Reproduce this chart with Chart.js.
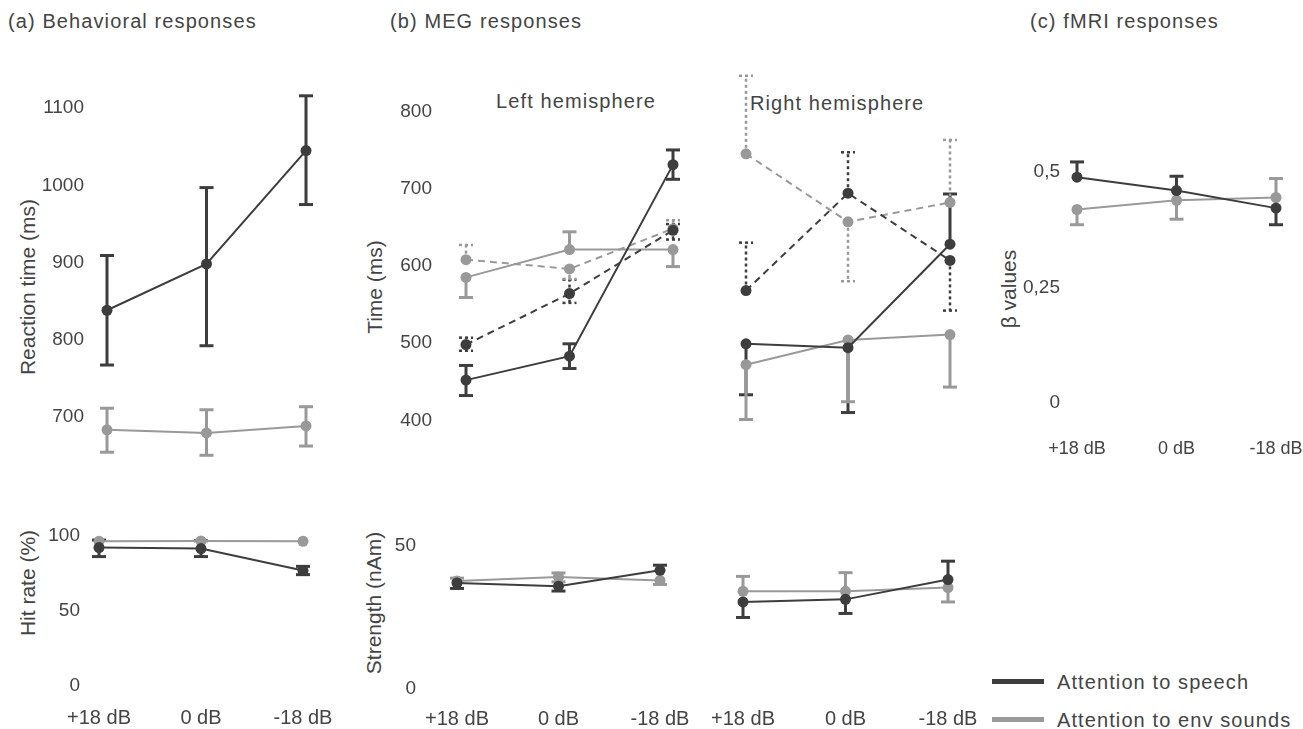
<!DOCTYPE html>
<html><head><meta charset="utf-8">
<script src="https://cdn.jsdelivr.net/npm/chart.js@4.4.1/dist/chart.umd.min.js"></script>
<style>
html,body{margin:0;padding:0;background:#fff;}
body{width:1303px;height:729px;position:relative;overflow:hidden;font-family:"Liberation Sans",Arial,sans-serif;color:#444444;}
canvas{position:absolute;}
.t{position:absolute;white-space:nowrap;font-size:20px;letter-spacing:1.1px;line-height:1;}
.c{transform:translateX(-50%);}
.v{position:absolute;white-space:nowrap;font-size:21px;line-height:1;transform:translate(-50%,-50%) rotate(-90deg);}
.leg{position:absolute;height:5px;width:52px;}
</style></head><body>
<div class="t" style="left:8px;top:11px">(a) Behavioral responses</div>
<div class="t" style="left:390px;top:11px">(b) MEG responses</div>
<div class="t" style="left:1030px;top:11px">(c) fMRI responses</div>
<div class="t c" style="left:576px;top:91px">Left hemisphere</div>
<div class="t" style="left:750px;top:93px">Right hemisphere</div>
<div class="v" style="left:27px;top:287px">Reaction time (ms)</div>
<div class="v" style="left:27px;top:583px">Hit rate (%)</div>
<div class="v" style="left:374px;top:287px">Time (ms)</div>
<div class="v" style="left:373px;top:603px">Strength (nAm)</div>
<div class="v" style="left:1008px;top:289px">β values</div>
<div class="leg" style="left:992px;top:679px;background:#3d3d3d"></div>
<div class="t" style="left:1057px;top:672px">Attention to speech</div>
<div class="leg" style="left:992px;top:717px;background:#999999"></div>
<div class="t" style="left:1057px;top:710px">Attention to env sounds</div>
<script>
// ---------- data ----------
const levels = ['+18 dB', '0 dB', '-18 dB'];

// (a) reaction time (ms)
const rtTicks = [700, 800, 900, 1000, 1100];
const rtSpeech = [838, 898, 1045];
const rtSpeechLow = [767, 792, 975];
const rtSpeechHigh = [909, 997, 1116];
const rtEnv = [683, 679, 688];
const rtEnvLow = [654, 650, 662];
const rtEnvHigh = [711, 709, 713];

// (a) hit rate (%)
const hitTicks = [0, 50, 100];
const hitSpeech = [92, 91.3, 76.7];
const hitSpeechLow = [86, 86, 74];
const hitSpeechHigh = [97, 96.5, 79.5];
const hitEnv = [96.2, 96.4, 96.2];

// (b) MEG latency (ms)
const megTimeTicks = [400, 500, 600, 700, 800];
// left hemisphere, solid (1) and dashed (2)
const lhSpeech1 = [452, 483, 731];
const lhSpeech1Low = [432, 467, 712];
const lhSpeech1High = [471, 499, 750];
const lhSpeech2 = [498, 564, 646];
const lhSpeech2Low = [490, 552, 634];
const lhSpeech2High = [507, 582, 654];
const lhEnv1 = [585, 621, 621];
const lhEnv1Low = [559, null, 599];
const lhEnv1High = [null, 644, null];
const lhEnv2 = [608, 596, 648];
const lhEnv2Low = [null, 583, null];
const lhEnv2High = [627, null, 659];
// right hemisphere
const rhSpeech1 = [499, 494, 628];
const rhSpeech1Low = [433, 410, null];
const rhSpeech1High = [null, null, 693];
const rhSpeech2 = [568, 694, 607];
const rhSpeech2Low = [null, null, 542];
const rhSpeech2High = [630, 747, null];
const rhEnv1 = [472, 504, 511];
const rhEnv1Low = [401, 424, 443];
const rhEnv1High = [null, null, null];
const rhEnv2 = [745, 657, 682];
const rhEnv2Low = [null, 580, null];
const rhEnv2High = [846, null, 763];

// (b) MEG strength (nAm)
const strTicks = [0, 50];
const lhStrSpeech = [36.9, 35.8, 41.3];
const lhStrSpeechLow = [35, 34.1, null];
const lhStrSpeechHigh = [null, null, 43.1];
const lhStrEnv = [37.6, 39, 37.8];
const lhStrEnvLow = [null, 37.3, 36.4];
const lhStrEnvHigh = [38.6, 40.4, null];
const rhStrSpeech = [30.3, 31.2, 38.1];
const rhStrSpeechLow = [24.9, 26.3, null];
const rhStrSpeechHigh = [null, null, 44.5];
const rhStrEnv = [34, 34, 35.3];
const rhStrEnvLow = [null, null, 30.3];
const rhStrEnvHigh = [39.2, 40.5, null];

// (c) fMRI beta values
const betaTicks = [0, 0.25, 0.5];
const betaTickLabels = ['0', '0,25', '0,5'];
const betaSpeech = [0.489, 0.460, 0.422];
const betaSpeechLow = [null, null, 0.386];
const betaSpeechHigh = [0.522, 0.491, null];
const betaEnv = [0.419, 0.439, 0.445];
const betaEnvLow = [0.386, 0.398, null];
const betaEnvHigh = [null, null, 0.486];

// ---------- drawing ----------
const DARK = '#3d3d3d', LIGHT = '#999999', TEXT = '#444444';
Chart.defaults.font.family = '"Liberation Sans", Arial, sans-serif';
Chart.defaults.color = TEXT;

const errorBarPlugin = {
  id: 'errbars',
  beforeDatasetsDraw(chart) {
    const ctx = chart.ctx, ys = chart.scales.y;
    chart.data.datasets.forEach((ds, di) => {
      const meta = chart.getDatasetMeta(di);
      ctx.save();
      ctx.strokeStyle = ds.borderColor;
      ctx.lineWidth = ds.errWidth;
      ctx.setLineDash(ds.errDash);
      meta.data.forEach((pt, i) => {
        [ds.errLow ? ds.errLow[i] : null, ds.errHigh ? ds.errHigh[i] : null].forEach(v => {
          if (v === null || v === undefined) return;
          const ye = ys.getPixelForValue(v);
          ctx.beginPath(); ctx.moveTo(pt.x, pt.y); ctx.lineTo(pt.x, ye); ctx.stroke();
          ctx.beginPath(); ctx.moveTo(pt.x - 7, ye); ctx.lineTo(pt.x + 7, ye); ctx.stroke();
        });
      });
      ctx.restore();
    });
  }
};

function makeSet(s) {
  const color = s.dark ? DARK : LIGHT;
  return {
    data: s.data, borderColor: color, backgroundColor: color,
    pointBackgroundColor: color, pointBorderColor: color, pointBorderWidth: 0,
    borderWidth: 2, pointRadius: 5.5, borderDash: s.dashed ? [7, 5] : [],
    tension: 0, clip: false, fill: false,
    errLow: s.low || null, errHigh: s.high || null,
    errDash: s.dashed ? [3, 3] : [], errWidth: s.dashed ? 2.5 : 3
  };
}

function makePanel(o) {
  const k = (o.p2 - o.p1) / (o.v1 - o.v2);
  const T = o.p1 - (o.yMax - o.v1) * k;
  const B = o.p2 + (o.v2 - o.yMin) * k;
  const yW = 100, padL = 10, padT = 15, padB = 10, padR = 40;
  const xH = o.xShow ? (o.xPad + 32) : 0;
  const w = Math.round((o.R - o.L) + yW + padL + padR);
  const h = Math.round((B - T) + padT + xH + padB);
  const cv = document.createElement('canvas');
  cv.style.left = (o.L - yW - padL) + 'px';
  cv.style.top = (T - padT) + 'px';
  cv.width = w; cv.height = h;
  cv.style.width = w + 'px'; cv.style.height = h + 'px';
  document.body.appendChild(cv);
  new Chart(cv, {
    type: 'line',
    data: { labels: levels, datasets: o.sets.map(makeSet) },
    options: {
      responsive: false, animation: false, events: [],
      layout: { padding: { left: padL + (o.yShow ? 0 : yW), top: padT, right: w - padL - yW - (o.R - o.L), bottom: padB } },
      plugins: { legend: { display: false }, tooltip: { enabled: false } },
      scales: {
        x: {
          type: 'category', offset: false, display: o.xShow,
          grid: { display: false, drawTicks: false }, border: { display: false },
          ticks: { padding: o.xPad || 0, font: { size: o.xFont || 20 }, color: TEXT, maxRotation: 0, autoSkip: false },
          afterFit: s => { if (o.xShow) s.height = xH; s.paddingLeft = 0; s.paddingRight = 0; }
        },
        y: {
          type: 'linear', min: o.yMin, max: o.yMax, display: o.yShow,
          grid: { display: false, drawTicks: false }, border: { display: false },
          ticks: { padding: o.yPad || 0, font: { size: 19 }, color: TEXT,
                   callback: (v, i) => (o.tickLabels ? o.tickLabels[i] : String(o.ticks[i])) },
          afterBuildTicks: s => { s.ticks = o.ticks.map(v => ({ value: v })); },
          afterFit: s => { if (o.yShow) s.width = yW; s.paddingTop = 0; s.paddingBottom = 0; }
        }
      }
    },
    plugins: [errorBarPlugin]
  });
}

// (a) reaction time
makePanel({ L: 107, R: 306, v1: 1100, p1: 108.3, v2: 700, p2: 416.7, yMin: 640, yMax: 1130,
  ticks: rtTicks, yShow: true, yPad: 23, xShow: false,
  sets: [
    { data: rtSpeech, low: rtSpeechLow, high: rtSpeechHigh, dark: true },
    { data: rtEnv, low: rtEnvLow, high: rtEnvHigh, dark: false }
  ] });

// (a) hit rate
makePanel({ L: 99, R: 303, v1: 100, p1: 535, v2: 0, p2: 685, yMin: 0, yMax: 105,
  ticks: hitTicks, yShow: true, yPad: 19, xShow: true, xPad: 20,
  sets: [
    { data: hitSpeech, low: hitSpeechLow, high: hitSpeechHigh, dark: true },
    { data: hitEnv, dark: false }
  ] });

// (b) latency, left hemisphere
makePanel({ L: 466, R: 673, v1: 800, p1: 111.7, v2: 400, p2: 421, yMin: 390, yMax: 860,
  ticks: megTimeTicks, yShow: true, yPad: 34, xShow: false,
  sets: [
    { data: lhSpeech1, low: lhSpeech1Low, high: lhSpeech1High, dark: true },
    { data: lhSpeech2, low: lhSpeech2Low, high: lhSpeech2High, dark: true, dashed: true },
    { data: lhEnv1, low: lhEnv1Low, high: lhEnv1High, dark: false },
    { data: lhEnv2, low: lhEnv2Low, high: lhEnv2High, dark: false, dashed: true }
  ] });

// (b) latency, right hemisphere
makePanel({ L: 746, R: 950, v1: 800, p1: 111.7, v2: 400, p2: 421, yMin: 390, yMax: 860,
  ticks: megTimeTicks, yShow: false, xShow: false,
  sets: [
    { data: rhSpeech1, low: rhSpeech1Low, high: rhSpeech1High, dark: true },
    { data: rhSpeech2, low: rhSpeech2Low, high: rhSpeech2High, dark: true, dashed: true },
    { data: rhEnv1, low: rhEnv1Low, high: rhEnv1High, dark: false },
    { data: rhEnv2, low: rhEnv2Low, high: rhEnv2High, dark: false, dashed: true }
  ] });

// (b) strength, left hemisphere
makePanel({ L: 457, R: 660, v1: 50, p1: 545, v2: 0, p2: 689, yMin: 0, yMax: 55,
  ticks: strTicks, yShow: true, yPad: 41, xShow: true, xPad: 18,
  sets: [
    { data: lhStrSpeech, low: lhStrSpeechLow, high: lhStrSpeechHigh, dark: true },
    { data: lhStrEnv, low: lhStrEnvLow, high: lhStrEnvHigh, dark: false }
  ] });

// (b) strength, right hemisphere
makePanel({ L: 743, R: 948, v1: 50, p1: 545, v2: 0, p2: 689, yMin: 0, yMax: 55,
  ticks: strTicks, yShow: false, xShow: true, xPad: 18,
  sets: [
    { data: rhStrSpeech, low: rhStrSpeechLow, high: rhStrSpeechHigh, dark: true },
    { data: rhStrEnv, low: rhStrEnvLow, high: rhStrEnvHigh, dark: false }
  ] });

// (c) fMRI
makePanel({ L: 1077, R: 1276, v1: 0.5, p1: 171.7, v2: 0, p2: 403, yMin: 0, yMax: 0.55,
  ticks: betaTicks, tickLabels: betaTickLabels, yShow: true, yPad: 17, xShow: true, xPad: 35, xFont: 18,
  sets: [
    { data: betaSpeech, low: betaSpeechLow, high: betaSpeechHigh, dark: true },
    { data: betaEnv, low: betaEnvLow, high: betaEnvHigh, dark: false }
  ] });
</script>
</body></html>
